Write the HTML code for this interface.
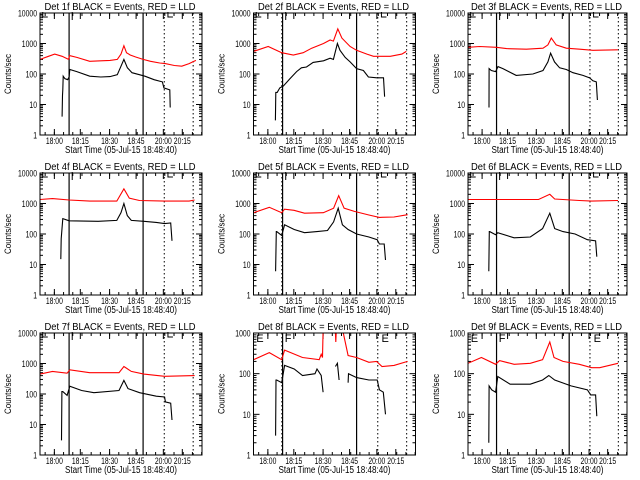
<!DOCTYPE html>
<html><head><meta charset="utf-8"><style>
body{margin:0;background:#fff;}
svg{display:block;font-family:"Liberation Sans",sans-serif;}
</style></head><body>
<svg id="c" width="640" height="480" viewBox="0 0 640 480"></svg>
<script>
const panelTitles=["Det 1f BLACK = Events, RED = LLD","Det 2f BLACK = Events, RED = LLD","Det 3f BLACK = Events, RED = LLD","Det 4f BLACK = Events, RED = LLD","Det 5f BLACK = Events, RED = LLD","Det 6f BLACK = Events, RED = LLD","Det 7f BLACK = Events, RED = LLD","Det 8f BLACK = Events, RED = LLD","Det 9f BLACK = Events, RED = LLD"];
const xTickLabels=["18:00","18:15","18:30","18:45","20:00","20:15"];
const xTickTimes=[7.8,21.9,37.8,52.2,67,77.3];
const panelDecades=[4,4,4,4,4,4,4,3,3];
const solidLines=[15.8,56];
const dottedLines=[67.5,83.2];

const p1RedT=[0,4,8,12,15.5,16,20,27,33,38,42,44,45.6,47,49,52,56,60,65,68,73,77,81,84.7];
const p1Red=[300,370,450,380,300,400,350,260,270,280,300,450,850,500,420,360,300,260,230,220,190,180,220,280];
const p1BlkT=[12,12.2,12.4,12.6,13.5,15,15.8,16.2,20,27,33,38,42,44,45.6,47.5,50,54,57,62,66.5,67.3,70.5,70.7];
const p1Blk=[4,20,30,85,70,65,80,140,120,85,80,82,95,180,300,160,110,95,85,65,55,35,30,8];

const p2RedT=[0,8,15.3,21.6,27,31.6,38,41.6,43.4,45.8,48,52.5,56,61.6,65.2,74.3,80.6,83];
const p2Red=[550,800,500,420,500,700,1000,1300,1200,3000,1500,800,600,450,380,380,450,550];
const p2BlkT=[11.9,12.1,12.9,14.3,16.2,19.8,23.4,26,28.8,32.4,38,41.6,43.4,45.6,47,49.8,52.5,56,59.7,62.4,67,70.6,71.2];
const p2Blk=[3,25,25,35,40,70,120,160,170,240,270,330,300,1000,600,350,250,150,130,80,75,75,18];

const p3RedT=[0,6.4,15.7,21.3,32.3,41.5,44.2,46.1,48.8,54.4,61.8,69.1,82.9];
const p3Red=[750,800,750,680,650,700,900,1500,900,700,650,600,620];
const p3BlkT=[11.6,11.7,12.9,15.3,16.6,19.3,26.7,35.9,41.5,44.2,45.7,47.9,50.7,54.4,58.1,63.6,67.3,69.1,71,71.6];
const p3Blk=[8,150,130,120,175,150,90,100,130,250,480,250,160,140,110,90,75,60,55,14];

const p4RedT=[0,6.8,15.8,27,41.7,45.6,48.5,54,67.7,81,84];
const p4Red=[1350,1450,1300,1200,1200,3000,1500,1250,1200,1200,1300];
const p4BlkT=[11.3,11.5,12.4,15.8,31.6,41.7,44,45.6,47.4,49.6,56.4,63.2,67.7,71,71.7];
const p4Blk=[15,70,320,270,260,280,500,1000,400,280,260,240,220,230,60];

const p5RedT=[0,8.6,15.3,16.9,22,27.7,37.9,43.5,46.3,49.2,54.8,62.7,68.4,76.3,83.7];
const p5Red=[500,750,500,650,600,480,500,700,1800,700,550,420,350,360,430];
const p5BlkT=[12,12.4,12.6,15.3,16.9,22.1,27.7,34.5,40.2,43.5,46,48.3,51.4,56,62.7,67.2,68.4,71,71.7];
const p5Blk=[6,120,120,90,200,140,110,120,130,250,700,200,140,100,80,65,47,47,14];

const p6RedT=[0,20,39,45.3,48,61.6,68.4,83];
const p6Red=[1350,1350,1350,2000,1400,1250,1200,1250];
const p6BlkT=[11.5,11.8,12,15.3,16.5,25.5,34.5,41.3,45.3,48,52.6,59.3,66.1,70.6,71.3];
const p6Blk=[6,120,120,95,110,75,80,150,480,150,120,100,65,60,18];

const p7RedT=[0,6.8,14.7,16.2,27,42.9,45.6,49.6,56.4,67.7,84];
const p7Red=[450,550,480,620,500,500,800,550,450,380,400];
const p7BlkT=[11.7,11.9,12.4,14.7,16.2,22.6,29.3,42.9,45.6,47.8,54.1,63.2,67.7,68.1,71,71.7];
const p7Blk=[3,120,120,90,180,130,110,130,280,150,110,85,80,55,50,14];

const p8RedT=[0,8.6,15.3,16.9,26.6,35.7,36.8,37.5,37.9,44.2,44.7,45.2,48.3,48.8,51.4,56,62.7,66.8,69.8,76.3,83.7];
const p8Red=[220,330,220,380,250,220,300,250,2000,2000,600,2000,2000,1000,280,250,190,200,150,160,200];
const p8BlkT=[12,12.2,12.6,15.3,16.9,22.1,26.6,33.4,34.5,36.8,37.8,null,44.5,45.6,46.5,null,51.4,51.6,56,62.7,67.2,68.4,70.5,71.7];
const p8Blk=[3,70,70,60,160,130,90,100,130,90,35,null,150,180,70,null,60,100,80,70,70,40,35,10];

const p9RedT=[0,7.4,15.3,17.5,25.5,34.5,41.3,45.3,47.6,52.6,61.6,68.4,72.9,83];
const p9Red=[180,250,170,210,170,180,220,600,250,200,170,140,140,180];
const p9BlkT=[11.5,11.7,13.1,15.3,16.5,23.3,34.5,41.3,44.7,48,57,66.1,67.9,70.6,71.3];
const p9Blk=[2,50,40,35,85,55,55,70,90,70,50,40,30,30,9];

const redTimes=[p1RedT,p2RedT,p3RedT,p4RedT,p5RedT,p6RedT,p7RedT,p8RedT,p9RedT];
const redVals=[p1Red,p2Red,p3Red,p4Red,p5Red,p6Red,p7Red,p8Red,p9Red];
const blkTimes=[p1BlkT,p2BlkT,p3BlkT,p4BlkT,p5BlkT,p6BlkT,p7BlkT,p8BlkT,p9BlkT];
const blkVals=[p1Blk,p2Blk,p3Blk,p4Blk,p5Blk,p6Blk,p7Blk,p8Blk,p9Blk];

const NS="http://www.w3.org/2000/svg";
const svg=document.getElementById('c');
function mk(tag,attrs,parent){const e=document.createElementNS(NS,tag);for(const k in attrs)e.setAttribute(k,attrs[k]);(parent||svg).appendChild(e);return e;}
const colL=[40,253.5,468],colR=[202,415.5,627];
const TMAX=88;
for(let p=0;p<9;p++){
  const c=p%3,r=Math.floor(p/3);
  const L=colL[c],R=colR[c],T=13+r*160,B=135+r*160,D=panelDecades[p];
  const xs=t=>L+t/TMAX*(R-L);
  const ys=v=>B-Math.log10(v)/D*(B-T);
  const g=mk('g',{});
  
  
  const cp=mk('clipPath',{id:'cp'+p},g);mk('rect',{x:L,y:T,width:R-L,height:B-T},cp);
  const title=mk('text',{x:(L+R)/2-1,y:T-3,'text-anchor':'middle','font-size':10,textLength:151,lengthAdjust:'spacingAndGlyphs'},g);
  title.textContent=panelTitles[p];
  
  
  const yl=mk('text',{x:0,y:0,'text-anchor':'middle','font-size':9,textLength:40,lengthAdjust:'spacingAndGlyphs',transform:`translate(${L-29},${(T+B)/2}) rotate(-90)`},g);
  yl.textContent='Counts/sec';
  
  
  const xl=mk('text',{x:(L+R)/2,y:B+18,'text-anchor':'middle','font-size':10,textLength:112,lengthAdjust:'spacingAndGlyphs'},g);
  xl.textContent='Start Time (05-Jul-15 18:48:40)';
  
  
  for(let d=0;d<=D;d++){
    const y=B-d/D*(B-T);
    mk('line',{x1:L,x2:L+6,y1:y,y2:y,stroke:'#000','stroke-width':1},g);
    mk('line',{x1:R,x2:R-6,y1:y,y2:y,stroke:'#000','stroke-width':1},g);
    const s=String(Math.pow(10,d));
    const tl=mk('text',{x:L-3,y:y+3.5,'text-anchor':'end','font-size':9,textLength:s.length*3.8,lengthAdjust:'spacingAndGlyphs'},g);
    tl.textContent=s;
    
    
    if(d<D)for(let m=2;m<10;m++){const ym=B-(d+Math.log10(m))/D*(B-T);
      mk('line',{x1:L,x2:L+3,y1:ym,y2:ym,stroke:'#000'},g);mk('line',{x1:R,x2:R-3,y1:ym,y2:ym,stroke:'#000'},g);}
  }
  for(let i=0;i<xTickTimes.length;i++){
    const x=xs(xTickTimes[i]);
    mk('line',{x1:x,x2:x,y1:B,y2:B-6,stroke:'#000'},g);
    mk('line',{x1:x,x2:x,y1:T,y2:T+6,stroke:'#000'},g);
    const tl=mk('text',{x:x,y:B+9,'text-anchor':'middle','font-size':9,textLength:17,lengthAdjust:'spacingAndGlyphs'},g);
    tl.textContent=xTickLabels[i];
    
    
  }
  for(let t=2.8;t<TMAX;t+=5){const x=xs(t);mk('line',{x1:x,x2:x,y1:B,y2:B-3,stroke:'#000'},g);mk('line',{x1:x,x2:x,y1:T,y2:T+3,stroke:'#000'},g);}
  const dl=dottedLines.slice();if(c===1)dl.push(15.4);
  for(const t of solidLines)mk('line',{x1:xs(t),x2:xs(t),y1:T,y2:B,stroke:'#000','stroke-width':1.2},g);
  for(const t of dl)mk('line',{x1:xs(t),x2:xs(t),y1:T,y2:B,stroke:'#000','stroke-dasharray':'1.5,2.5'},g);
  if(r<2||c===0){for(const t of [1.5,69.5]){const x=xs(t);mk('path',{d:`M${x} ${T-1}V${T+4}h5`,fill:'none',stroke:'#000'},g);}
    mk('line',{x1:xs(17.5),x2:xs(17.5),y1:T-1,y2:T+7,stroke:'#000'},g);}
  else{[[1.5,'E'],[17,'F'],[69.5,'E']].forEach(([t,s])=>{const e=mk('text',{x:xs(t),y:T+9,'font-size':11},g);e.textContent=s;});}
  function series(ts,vs,col,name){
    let d='',pen=false;
    for(let i=0;i<ts.length;i++){
      if(ts[i]===null||vs[i]===null){pen=false;continue;}
      d+=(pen?'L':'M')+xs(ts[i]).toFixed(1)+' '+ys(vs[i]).toFixed(1);pen=true;}
    const e=mk('path',{d:d,fill:'none',stroke:col,'stroke-width':1.1,'clip-path':`url(#cp${p})`},g);
    
    
  }
  series(redTimes[p],redVals[p],'#ff0000','lld-red-line');
  series(blkTimes[p],blkVals[p],'#000000','events-black-line');
  const box=mk('rect',{x:L,y:T,width:R-L,height:B-T,fill:'none',stroke:'#000','stroke-width':1},g);
  
  
}
</script>
</body></html>
